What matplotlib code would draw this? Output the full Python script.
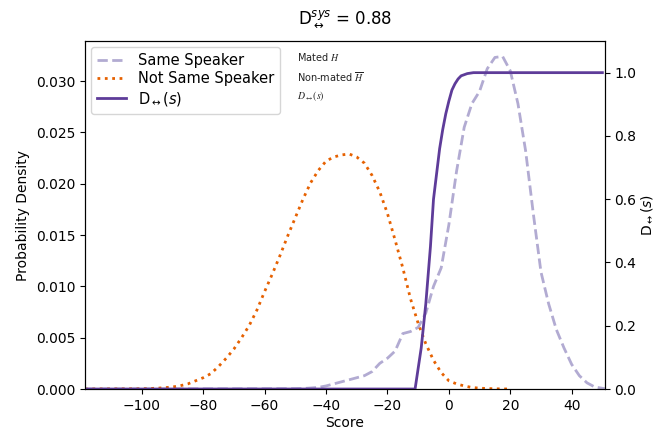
import matplotlib
matplotlib.use("Agg")
import matplotlib.pyplot as plt

# Not Same Speaker (non-mated) density
ns_x = [-118.5, -100, -95, -92.5, -90, -87.5, -85, -82.5, -80, -77.5, -75, -72.5, -70,
        -67.5, -65, -62.5, -60, -57.5, -55, -52.5, -50, -47.5, -45, -42.5, -40,
        -37.5, -35, -32.5, -30, -27.5, -25, -22.5, -20, -17.5, -15, -12.5, -10,
        -7.5, -5, -2.5, 0, 2.5, 5, 7.5, 10, 15, 20]
ns_y = [0.0, 0.00002, 0.00008, 0.00013, 0.0002, 0.00032, 0.0005, 0.0008, 0.0011, 0.0015,
        0.0022, 0.0030, 0.0039, 0.0050, 0.0062, 0.0077, 0.0095, 0.0112, 0.0130, 0.0149,
        0.0167, 0.0185, 0.0201, 0.0213, 0.0222, 0.0226, 0.0228, 0.0229, 0.0226, 0.0220,
        0.0208, 0.0192, 0.0171, 0.0145, 0.0118, 0.0088, 0.0064, 0.0044, 0.0028, 0.0016,
        0.0008, 0.0005, 0.0003, 0.00015, 0.00008, 0.00002, 0.0]

# Same Speaker (mated) density
ss_x = [-118.5, -50, -47.5, -45, -42.5, -40, -37.5, -35, -32.5, -30, -27.5, -25, -22.5,
        -20, -17.5, -15, -12.5, -10, -7.5, -5, -2.5, 0, 2.5, 5, 7.5, 10, 12.5, 15,
        17.5, 20, 22.5, 25, 27.5, 30, 32.5, 35, 37.5, 40, 42.5, 45, 47.5, 50.8]
ss_y = [0.0, 0.00003, 0.00005, 0.0001, 0.00016, 0.0003, 0.0005, 0.0007, 0.0009, 0.0011,
        0.0013, 0.0017, 0.0025, 0.0030, 0.0037, 0.0054, 0.0056, 0.0060, 0.0074, 0.0100,
        0.0118, 0.0160, 0.0212, 0.0255, 0.0278, 0.0290, 0.0312, 0.0323, 0.0324, 0.0310,
        0.0278, 0.0232, 0.0171, 0.0114, 0.0083, 0.0058, 0.0040, 0.0024, 0.0013, 0.0006,
        0.0002, 0.00003]

# D(s) curve
d_x = [-118.5, -11, -9, -7.5, -6, -5, -4, -3, -2, -1, 0, 1, 2, 3, 4, 6, 8, 50]
d_y = [0.0, 0.0, 0.13, 0.27, 0.45, 0.60, 0.68, 0.76, 0.82, 0.87, 0.91, 0.945, 0.965,
       0.98, 0.99, 0.997, 1.0, 1.0]

x_ticks = [-100, -80, -60, -40, -20, 0, 20, 40]

c_ss = '#b2abd2'
c_ns = '#e66101'
c_d = '#5e3c99'

fig = plt.figure(figsize=(6.56, 4.29), dpi=100)
ax = fig.add_axes([0.1296, 0.0932, 0.7924, 0.8112])
ax2 = ax.twinx()

l1, = ax.plot(ss_x, ss_y, linestyle='--', color=c_ss, lw=2, label='Same Speaker')
l2, = ax.plot(ns_x, ns_y, linestyle=':', color=c_ns, lw=2, label='Not Same Speaker')
l3, = ax2.plot(d_x, d_y, linestyle='-', color=c_d, lw=2, label=r'D$_{\leftrightarrow}(s)$')

ax.set_xlim(-118.5, 50.8)
ax.set_ylim(0, 0.0339)
ax2.set_ylim(0, 1.1)
ax.set_xticks(x_ticks)
ax.set_xlabel('Score', labelpad=2)
ax.set_ylabel('Probability Density')
ax2.set_ylabel(r'D$_{\leftrightarrow}(s)$', labelpad=2)
ax.set_title(r'D$^{sys}_{\leftrightarrow}$ = 0.88', pad=12)

ax2.legend(handles=[l1, l2, l3], loc='upper left', fontsize=10.5,
           labelspacing=0.25, borderaxespad=0.4)

txt_kw = dict(transform=fig.transFigure, fontsize=7, math_fontfamily='stix',
              ha='left', va='center', color='#222222')
fig.text(297 / 656, 1 - 57 / 429, r'Mated $H$', **txt_kw)
fig.text(297 / 656, 1 - 77 / 429, r'Non-mated $\overline{H}$', **txt_kw)
fig.text(297 / 656, 1 - 96 / 429, r'$D_{\leftrightarrow}(s)$', **txt_kw)

fig.savefig('out.png', dpi=100)
